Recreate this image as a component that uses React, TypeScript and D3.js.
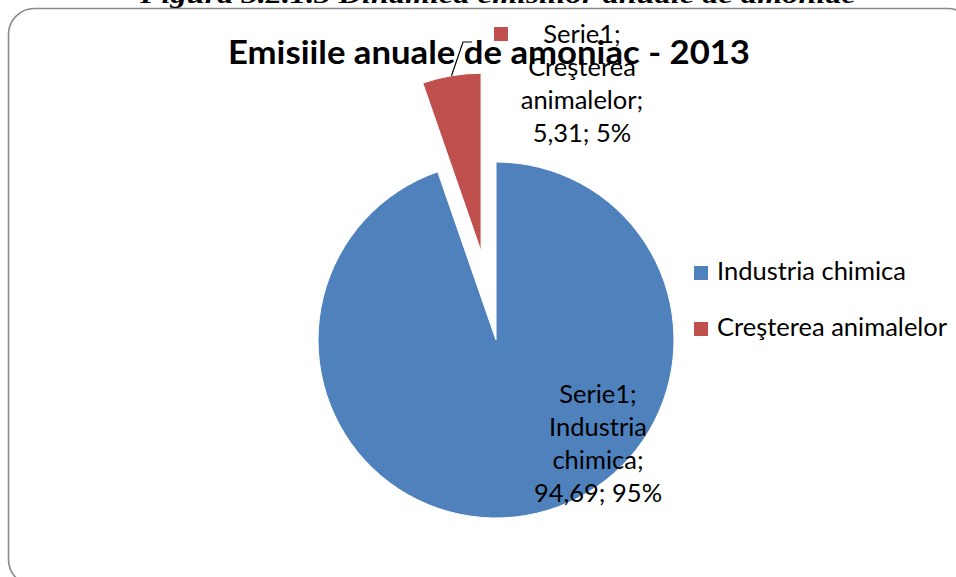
import React from "react";
import * as d3 from "d3";

const categories = ["Industria chimica", "Creşterea animalelor"];
const values = [94.69, 5.31];
const seriesName = "Serie1";
const colors = ["#4F81BD", "#C0504D"];
const chartTitle = "Emisiile anuale de amoniac - 2013";
const caption = "Figura 3.2.1.3 Dinamica emisiilor anuale de amoniac";

const W = 956;
const H = 577;
const CX = 496;
const CY = 340;
const R = 178;
const EXPLODE = 90;
const FONT = "Lato, Carlito, Calibri, 'Liberation Sans', sans-serif";

export default function App() {
  const total = d3.sum(values);
  const pie = d3.pie<number>().sort(null).value((d) => d);
  const arcs = pie(values);
  const arcGen = d3.arc<d3.PieArcDatum<number>>().innerRadius(0).outerRadius(R);
  const fmtNum = (v: number) => d3.format(".2f")(v).replace(".", ",");
  const pct = (v: number) => `${Math.round((v / total) * 100)}%`;

  const offsets = arcs.map((a, i) => {
    if (i !== 1) return [0, 0];
    const mid = (a.startAngle + a.endAngle) / 2;
    return [Math.sin(mid) * EXPLODE, -Math.cos(mid) * EXPLODE];
  });

  const red = arcs[1];
  const redMid = (red.startAngle + red.endAngle) / 2;
  const lx0 = CX + offsets[1][0] + Math.sin(redMid) * R;
  const ly0 = CY + offsets[1][1] - Math.cos(redMid) * R;

  const lineH = 33;
  const labelSize = 25.5;

  const blueLines = [
    `${seriesName};`,
    "Industria",
    "chimica;",
    `${fmtNum(values[0])}; ${pct(values[0])}`,
  ];
  const redLines = [
    `${seriesName};`,
    "Creşterea",
    "animalelor;",
    `${fmtNum(values[1])}; ${pct(values[1])}`,
  ];

  return (
    <svg
      width={W}
      height={H}
      style={{ position: "absolute", left: 0, top: 0, background: "#fff" }}
    >
      <rect x={0} y={0} width={W} height={H} fill="#fff" />
      <rect
        x={8.5}
        y={8.5}
        width={965}
        height={577}
        rx={26}
        ry={26}
        fill="#fff"
        stroke="#8a8a8a"
        strokeWidth={1.6}
      />
      <text
        x={140}
        y={3}
        fontFamily="'Liberation Serif', 'Times New Roman', serif"
        fontWeight="bold"
        fontStyle="italic"
        fontSize={24}
        textLength={716}
        lengthAdjust="spacingAndGlyphs"
        fill="#000"
      >
        {caption}
      </text>

      <g transform={`translate(${CX},${CY})`}>
        {arcs.map((a, i) => (
          <path
            key={categories[i]}
            d={arcGen(a) || ""}
            transform={`translate(${offsets[i][0]},${offsets[i][1]})`}
            fill={colors[i]}
            stroke="#fff"
            strokeWidth={1}
          />
        ))}
      </g>

      <text
        x={489}
        y={64}
        textAnchor="middle"
        fontFamily={FONT}
        fontWeight="bold"
        fontSize={33}
        textLength={522}
        lengthAdjust="spacingAndGlyphs"
        fill="#000"
      >
        {chartTitle}
      </text>

      <polyline
        points={`${lx0},${ly0} 463,42 472,42`}
        fill="none"
        stroke="#000"
        strokeWidth={1.2}
      />

      <rect x={494} y={27} width={14} height={14} fill={colors[1]} />
      {redLines.map((t, k) => (
        <text
          key={k}
          x={582}
          y={43 + k * lineH}
          textAnchor="middle"
          fontFamily={FONT}
          fontSize={labelSize}
          fill="#000"
        >
          {t}
        </text>
      ))}

      {blueLines.map((t, k) => (
        <text
          key={k}
          x={598}
          y={403 + k * lineH}
          textAnchor="middle"
          fontFamily={FONT}
          fontSize={labelSize}
          fill="#000"
        >
          {t}
        </text>
      ))}

      {categories.map((c, i) => (
        <g key={c} transform={`translate(694,${266 + i * 56})`}>
          <rect x={0} y={0} width={14} height={14} fill={colors[i]} />
          <text
            x={23}
            y={13.5}
            fontFamily={FONT}
            fontSize={labelSize}
            fill="#000"
          >
            {c}
          </text>
        </g>
      ))}
    </svg>
  );
}
